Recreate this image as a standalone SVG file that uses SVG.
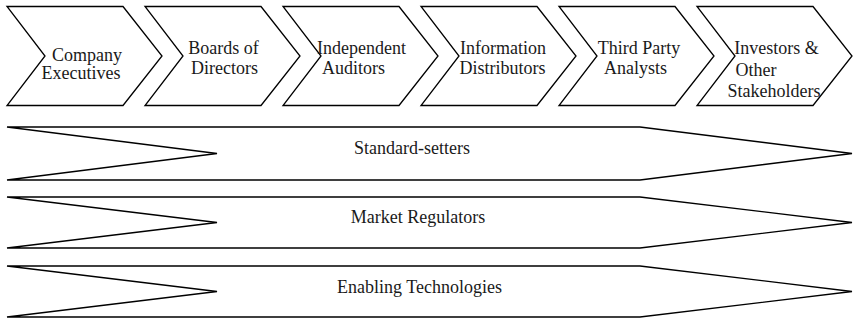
<svg xmlns="http://www.w3.org/2000/svg" width="854" height="320" viewBox="0 0 854 320">
  <defs>
    <style>
      .shape { fill: #ffffff; stroke: #000000; stroke-width: 1.3; stroke-linejoin: miter; }
      .lbl { font-size: 18px; fill: #1a1a1a; text-anchor: middle; }
    </style>
  </defs>
  <rect width="854" height="320" fill="#ffffff"/>

  <g font-family="Liberation Serif, serif">
    <!-- process chevrons -->
    <g id="company-executives">
      <polygon class="shape" points="7,6.5 123,6.5 162,56 123,105.5 7,105.5 45,56"/>
      <text class="lbl" x="87" y="60.5">Company</text>
      <text class="lbl" x="81" y="78.5">Executives</text>
    </g>
    <g id="boards-of-directors">
      <polygon class="shape" points="145,6.5 261,6.5 300,56 261,105.5 145,105.5 183,56"/>
      <text class="lbl" x="223.5" y="54">Boards of</text>
      <text class="lbl" x="224.5" y="74">Directors</text>
    </g>
    <g id="independent-auditors">
      <polygon class="shape" points="283,6.5 399,6.5 438,56 399,105.5 283,105.5 321,56"/>
      <text class="lbl" x="361.5" y="54">Independent</text>
      <text class="lbl" x="353.5" y="74">Auditors</text>
    </g>
    <g id="information-distributors">
      <polygon class="shape" points="421,6.5 537,6.5 576,56 537,105.5 421,105.5 459,56"/>
      <text class="lbl" x="503" y="54">Information</text>
      <text class="lbl" x="502.5" y="74">Distributors</text>
    </g>
    <g id="third-party-analysts">
      <polygon class="shape" points="559,6.5 675,6.5 714,56 675,105.5 559,105.5 597,56"/>
      <text class="lbl" x="639" y="54">Third Party</text>
      <text class="lbl" x="635.5" y="74">Analysts</text>
    </g>
    <g id="investors-stakeholders">
      <polygon class="shape" points="697,6.5 813,6.5 852,56 813,105.5 697,105.5 735,56"/>
      <text class="lbl" x="776.5" y="54">Investors &amp;</text>
      <text class="lbl" x="756" y="75.5">Other</text>
      <text class="lbl" x="774" y="97">Stakeholders</text>
    </g>

    <!-- full-width supporting bands -->
    <g id="standard-setters">
      <polygon class="shape" points="7,127 640,127 852,153.5 640,180 7,180 217,153.5"/>
      <text class="lbl" x="412" y="153.5">Standard-setters</text>
    </g>
    <g id="market-regulators">
      <polygon class="shape" points="7,197 640,197 852,222.5 640,248 7,248 217,222.5"/>
      <text class="lbl" x="418" y="223">Market Regulators</text>
    </g>
    <g id="enabling-technologies">
      <polygon class="shape" points="7,266 640,266 852,291.5 640,317 7,317 217,291.5"/>
      <text class="lbl" x="419.5" y="293">Enabling Technologies</text>
    </g>
  </g>

  <g id="connectors"></g>
</svg>
